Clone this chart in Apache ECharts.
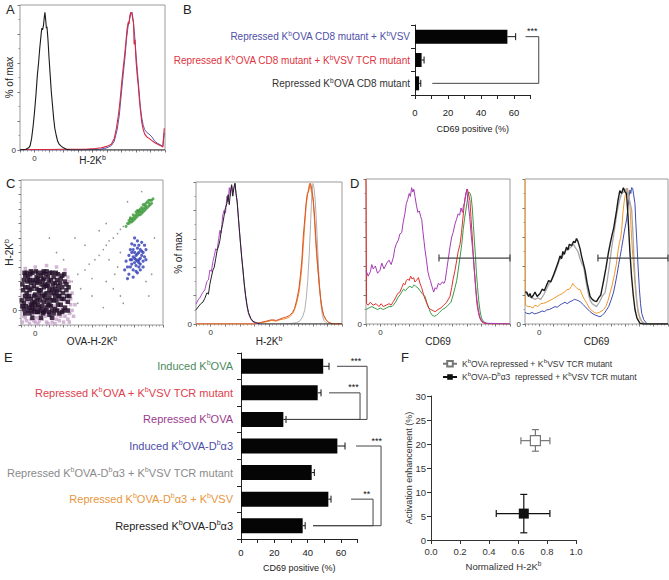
<!DOCTYPE html>
<html>
<head>
<meta charset="utf-8">
<script src="https://cdn.jsdelivr.net/npm/echarts@6.0.0/dist/echarts.min.js"></script>
<style>
html, body { margin: 0; padding: 0; background: #fff; }
#main { width: 669px; height: 580px; }
</style>
</head>
<body>
<div id="main"></div>
<script>
// multi-panel flow cytometry figure (A-F) in one echarts instance

const FONT = '"Liberation Sans", Arial, Helvetica, sans-serif';

// ---- panel A: H-2Kb histograms ----
const aBlack = [[0,0],[4,0.5],[6,1.5],[7,3],[8,8],[9,16],[10,26],[11,38],[12,52],[12.8,60],[13.6,70],[14.4,78],[15,84],[15.6,83],[16.2,86],[16.8,92],[17.2,95],[17.7,90],[18.2,84],[18.6,85],[19.3,76],[20,64],[20.8,52],[21.6,40],[22.4,31],[23.2,22],[24,15],[25,10],[26,6],[27,4],[28,3],[30,1.5],[32,0.5],[35,0],[100,0]];
const aRed = [[0,0.3],[20,0.3],[30,0.5],[45,0.5],[52,1],[56,1.5],[60,2.5],[63,4],[65,8],[66.5,15],[68,25],[69,34],[70,45],[71,55],[72,64],[73,74],[73.8,83],[74.6,88],[75.2,87],[75.8,93],[76.5,95],[77.2,94],[77.8,90],[78.3,88],[78.7,73],[79.3,76],[80,62],[80.8,52],[81.6,44],[82.4,34],[83.2,26],[84,19],[85,14],[86,11],[87.5,9],[89,8],[91,6.5],[93,5],[95,4],[97,3],[98.5,2],[99.5,15]];
const aBlue = [[0,0],[45,0],[55,0.5],[60,1.5],[63,3],[65,6],[67,14],[68.5,24],[70,40],[71.2,52],[72.4,64],[73.5,77],[74.5,85],[75.5,90],[76.5,94],[77.3,95],[78,90],[79,80],[80,66],[81,54],[82,42],[83,30],[84,22],[85,17],[86,14],[87.5,12],[89,11],[91,9],[93,6],[95,4.5],[97,3.5],[98.5,2.5],[99.5,12]];

// ---- panel B ----
const bLabels = ['Repressed K^bOVA CD8 mutant + K^bVSV', 'Repressed K^bOVA CD8 mutant + K^bVSV TCR mutant', 'Repressed K^bOVA CD8 mutant'];
const bColors = ['#4f4fa6', '#de3341', '#333333'];
const bMeans = [56, 4, 2.5];
const bUpper = [61, 5.5, 3.5];
// [top row, bottom row, top start, bottom start, right edge, star x, stars]
const bBrackets = [[0, 2, 67, 10.5, 75, 71, '***']];

// ---- panel C: dot plot ----
const cBlack = [[1,13],[3,8],[2,15],[4,22],[1,28],[3,34],[5,10],[6,12],[7,18],[5,26],[6,31],[8,12],[9,9],[8,15],[10,21],[9,27],[11,33],[12,9],[13,12],[12,19],[14,24],[13,30],[15,36],[16,9],[17,10],[16,16],[18,22],[17,28],[19,33],[20,7],[21,13],[20,19],[22,25],[21,31],[23,8],[24,11],[23,17],[25,23],[24,29],[26,35],[27,8],[28,14],[27,20],[29,26],[28,32],[30,10],[31,12],[30,18],[32,24],[31,30],[33,16],[2,11],[4,18],[6,24],[8,36],[10,14],[12,14],[14,10],[15,20],[16,26],[18,12],[19,14],[22,10],[24,20],[26,14],[26,27],[29,9],[33,10],[34,20],[7,37],[18,37],[11,25],[14,34],[20,24],[3,20],[9,20],[13,22],[17,19],[21,22],[25,17],[11,17],[15,13],[19,27],[23,33],[27,24],[10,11],[6,8],[2,31],[29,34],[32,28],[4,36],[12,36],[22,36],[7,29],[16,32],[0.5,17],[1.5,24],[2.5,36],[3.5,13],[4.5,30],[5.5,20],[6.5,35],[7.5,10],[7.5,25],[8.5,31],[9.5,16],[10.5,37],[11.5,9],[11.5,29],[12.5,24],[13.5,17],[14.5,28],[15.5,8],[15.5,31],[16.5,21],[17.5,35],[18.5,17],[19.5,9],[19.5,30],[20.5,36],[21.5,17],[22.5,28],[23.5,22],[24.5,36],[25.5,10],[25.5,31],[26.5,20],[27.5,29],[28.5,18],[29.5,22],[30.5,35],[32.5,20],[33.5,26],[14,5],[22,5],[8,5],[3,26],[12,32],[18,27],[5,33],[20,14],[10,30],[24,25],[16,37],[7,14]];
const cPink = [[1,2],[3,5],[6,1],[9,3],[12,1],[15,4],[18,2],[21,5],[24,1],[27,3],[30,2],[33,4],[2,9],[8,7],[14,8],[20,9],[26,7],[32,10],[35,14],[36,22],[34,30],[31,38],[25,40],[18,41],[10,40],[3,39],[1,20],[37,6],[0.5,12],[16,11],[23,13],[5,16],[4,3],[11,5],[17,6],[28,6],[34,8],[7,4],[13,3],[19,1],[25,4],[31,6],[29,12],[35,18],[33,33],[30,28],[36,10],[10,2],[22,2],[2,6],[26,10],[34,2],[38,14],[32,16]];
const cGreen = [[75,70],[76,72],[77,71],[78,73],[77,74],[79,72],[80,75],[79,76],[81,74],[82,77],[81,78],[83,76],[84,78],[83,79],[85,77],[86,80],[85,81],[87,79],[88,82],[87,83],[89,81],[90,84],[89,85],[91,83],[92,86],[91,86],[80,73],[82,75],[84,80],[86,78],[88,80],[90,82],[78,71],[76,70],[83,78],[85,79],[87,81],[81,76],[79,74],[77,73],[88,84],[86,83],[84,76],[82,79],[90,86],[92,84],[74,68],[93,87]];
const cBlue = [[75,40],[77,45],[78,50],[76,35],[79,38],[80,43],[81,48],[82,53],[83,40],[84,46],[85,51],[86,44],[80,55],[78,42],[82,36],[84,38],[86,50],[87,47],[79,47],[81,41],[83,45],[80,50],[77,52],[83,55],[85,57],[74,44],[88,52],[76,48],[82,44],[84,42],[81,37],[79,33],[87,55],[83,50],[78,56],[80,60],[75,32],[73,38],[86,40],[88,45],[82,58],[85,48],[79,52],[81,45],[84,52],[77,40],[80,46],[83,43],[78,45],[82,49]];
const cGrey = [[36,30],[40,35],[45,38],[48,42],[52,45],[55,48],[58,52],[60,55],[62,58],[65,60],[68,63],[70,66],[72,68],[50,20],[60,30],[65,25],[70,20],[68,40],[62,45],[45,55],[38,60],[55,65],[40,15],[35,8],[58,12],[72,15],[90,20],[92,35],[94,60],[70,50],[66,35],[85,92],[75,85],[60,70],[50,32],[42,25],[30,45],[25,50],[20,60],[88,30]];

// ---- panel C: H-2Kb histograms ----
const chBlack = [[0,10],[1.5,12],[3,14],[4.8,15.5],[6,18],[7.5,22],[8.5,21],[9.5,28],[10.5,33],[11.6,38],[12.5,40],[13.5,46],[14.5,52],[15.5,55],[16.4,59],[17.3,66],[18.2,70],[19.2,76],[20.2,82],[21.2,85],[22,91],[22.8,84],[23.6,93],[24.4,98],[25.2,90],[26,96],[26.7,99],[27.4,92],[28.2,86],[28.8,78],[29.6,68],[30.4,58],[31.3,47],[32.2,38],[33,29],[34,20],[35,13],[36,8],[37.5,4],[39,2],[41,1],[44,0],[100,0]];
const chPurple = [[0,14],[1.5,17],[3,19],[4.5,22],[6,24],[7.5,30],[8.5,31],[9.5,38],[10.5,37],[11.6,44],[12.5,48],[13.5,53],[14.5,52],[15.5,60],[16.4,66],[17.3,64],[18.2,76],[19.2,80],[20.2,78],[21.2,90],[22,86],[22.8,96],[23.6,90],[24.4,98],[25.2,93],[26,96],[26.7,99],[27.4,92],[28.2,86],[28.8,78],[29.6,67],[30.4,57],[31.3,47],[32.2,37],[33,28],[34,19],[35,12],[36,7],[37.5,3.5],[39,1.5],[41,0.5],[44,0]];
const chOrange = [[0,0],[40,0],[44,0.8],[48,1.5],[52,2.5],[55,2],[57.5,3],[60,3.5],[62,4],[64,5],[66,7],[67.5,10],[69,15],[70.5,22],[71.5,30],[72.5,40],[73.5,55],[74.5,70],[75.5,84],[76.3,90],[77,95],[77.8,99],[78.5,96],[79.3,92],[80.3,86],[81.2,72],[82,57],[82.8,46],[83.6,37],[84.5,26],[85.5,16],[86.5,10],[87.5,6],[89,3],[91,1],[94,0],[100,0]];
const chRed = [[0,0],[40,0],[44,1],[48,2],[52,3],[55,2.5],[57.5,3.5],[60,4.5],[62,5],[64,6],[66,8],[67.5,11],[69,17],[70.5,25],[71.5,34],[72.5,45],[73.5,62],[74.5,74],[75.5,86],[76.3,92],[77,93],[77.8,97],[78.5,99],[79.3,95],[80.3,88],[81.2,76],[82,62],[82.8,49],[83.6,38],[84.5,27],[85.5,17],[86.5,10],[87.5,6],[89,3],[91,1],[94,0],[100,0]];
const chGrey = [[0,0],[60,0],[66,0.5],[69,1],[71,2],[73,5],[74.5,10],[75.5,18],[76.5,30],[77.5,48],[78.3,66],[79,84],[79.6,95],[80.2,99],[80.8,96],[81.6,88],[82.4,74],[83.2,56],[84,38],[84.8,24],[85.7,13],[86.6,6],[87.6,2.5],[89,1],[91,0],[100,0]];

// ---- panel D: CD69 histograms ----
const dlPurple = [[0,37],[1.5,33],[3,36],[4,41],[5,38],[6.5,40],[8,35],[9.7,37],[11,42],[12.5,38],[14.4,42],[16,44],[17.5,41],[19,46],[20,52],[21,55],[22.5,58],[23.5,62],[24.8,63],[25.8,70],[27,76],[28,83],[29,86],[30,90],[30.8,88],[31.7,94],[32.5,91],[33.2,93],[34,88],[35,82],[36,77],[37,78],[38,74],[38.7,72],[39.5,64],[40.3,57],[41,51],[42,44],[43,36],[44,32],[44.7,30],[45.8,26],[47,22],[48,25],[49,24],[50.2,28],[51.5,27],[53,29],[54.2,28],[55,30],[56,37],[57,44],[58.3,53],[59.5,60],[60.5,63],[61.8,69],[62.8,72],[64,76],[65,75],[66,80],[67,77],[67.6,81],[68.5,84],[69.3,89],[70,93],[70.7,86],[71.3,80],[72,74],[73,62],[74,52],[74.5,46],[75.5,34],[76.3,24],[77,17],[78,10],[79,5],[80.5,2],[82,1],[84,0.5],[100,0]];
const dlRed = [[0,100],[0.4,14],[1.5,13],[3,15],[5,13],[7,14],[9,12],[10.5,14],[12,12],[14,13],[16,14],[17.5,13],[19,15.5],[20.5,18],[22,21],[23.5,22],[24.8,25],[26,28],[27,27],[28,30],[29,31],[30,30],[31,33],[32,31],[33,32],[34,29],[35,30],[36.4,32],[37.5,28],[38.7,25],[40,20],[41.5,16],[43.5,11],[45,10],[47,9],[48,8.5],[50,10],[52,11],[54,13],[56,15],[58.3,19],[59.5,25],[60.5,31],[61.8,37],[63,44],[64,50],[65.3,55],[66.3,63],[67.2,72],[68,80],[68.8,87],[69.6,91],[70.4,93],[71.2,90],[72.2,85],[73,72],[73.8,60],[74.5,48],[75.3,36],[76.2,24],[77,14],[78,8],[79,4],[80.3,1.6],[82,0.5],[86,0],[100,0]];
const dlGreen = [[0,10],[2,11],[4,12],[6,11],[8,10],[10,11],[12,10],[14,11],[16,12],[18,12],[19,13],[20.5,15],[22,18],[23.5,20],[24.8,22],[26,24],[27.5,23],[29,25],[30.5,26],[32,25],[33.5,27],[34.5,26],[36,25],[37.5,23],[39,21],[41,19],[42.5,14],[44,10],[44.7,8],[46,6],[47.5,5.3],[49,6],[51,8],[53,10],[55,11],[57,13],[59,15],[60.5,20],[61.8,25],[63,30],[64,37],[65.3,46],[66.5,55],[67.5,65],[68.5,73],[69.3,78],[70,83],[70.8,88],[71.5,91],[72.3,90],[73,88],[73.8,80],[74.6,68],[75.3,57],[76,47],[76.7,35],[77.5,25],[78.3,16],[79.2,9],[80.2,4],[81.7,1.6],[84,0.3],[100,0]];
const drBlack = [[0,22],[1.2,22],[2.5,19],[3.5,21],[4.5,18],[5.9,20],[7,22],[8.5,19],[10.5,21],[12,24],[13.5,23],[15.2,27],[16.5,30],[18,29],[20,34],[21.5,38],[23,42],[24.5,47],[25.5,45],[26.5,50],[27.5,48],[29,53],[30,51],[31,55],[32.5,54],[34,57],[35,56],[36,59],[37,57],[38.5,52],[39.5,47],[40.5,43],[42,37],[43.5,28],[45.5,19],[47,17],[48.5,16],[50,15.4],[51.5,18],[53,20],[53.6,23],[55,30],[56.5,38],[58.3,49],[59.5,55],[61,62],[62,66],[63,72],[64,78],[65,85],[66.3,92],[67.5,90],[68.8,94],[70,91],[71,90],[72,75],[73.4,49],[74.5,33],[75.7,20],[76.9,10],[78.3,4],[80.4,0.5],[83,0],[100,0]];
const drGrey = [[0,20],[1.2,21],[3,19],[5,18],[7,17],[9,18],[11,17],[13,20],[15,24],[17,28],[19,31],[20,33],[22,38],[24,44],[26,46],[28,50],[29,51],[31,52],[33,54],[34,55],[35,53],[37,50],[38.5,45],[40,41],[41,39.5],[42.5,30],[44,22],[45.5,16.5],[47,14],[48.5,13],[50,12],[52,15],[54,19],[56,21.6],[57.5,30],[59,40],[60.5,52],[61.8,60],[63,68],[64.5,78],[66,85],[67.6,90],[69,91],[70,92],[71,93.6],[72,90],[73,86],[74.6,78.6],[75.5,62],[76.2,45],[77,30.5],[78,18],[79,10],[80,5.5],[81.5,2],[84,0],[100,0]];
const drOrange = [[0,100],[0.4,13],[2,12],[3.7,12],[5.5,11],[7,13],[9,12],[11,14],[13,14.3],[15,15],[17,16],[19,17],[20.5,18],[22.4,19],[24,20],[26,21],[27.5,22],[29.4,23.7],[31,24],[32.5,26],[33.5,28],[34,27],[35,26],[36,25],[37,24],[38.5,23.7],[40,20],[41.5,17],[43.2,14.3],[45,11],[47,9],[48.5,8],[50,7.4],[52,8],[54.8,9.7],[56.5,12],[58,16],[59.5,21.4],[61,27],[62.5,34],[64,42],[65,50],[66,56],[67,60],[67.6,65],[68.5,77],[69.3,84],[70,88.3],[70.8,91],[71.8,93.6],[72.6,88],[73.4,81],[74.2,66],[75,52],[76.2,37.2],[77.2,24],[78.2,14],[79.2,7.4],[80.5,3],[82.7,0.5],[86,0],[100,0]];
const drBlue = [[0,8],[1.2,7.4],[3,7],[5,8],[6.5,7],[8.2,7.4],[10,8],[12,9],[13.5,8.5],[15.2,9.7],[17,10],[19,11],[21,12],[22.5,11.5],[24.5,13.1],[26,14],[28,15],[29.5,14],[31.5,15.4],[33,16],[34.5,17],[36,16.6],[37.5,16],[39,15],[41,13.1],[43,11],[45.5,8.5],[47.5,7],[49.5,6],[51,5.5],[52.4,5],[54,6],[55.5,7.5],[57,9.7],[58.5,12],[60,16],[61.8,21.4],[63,27],[64.5,35],[65.5,41],[66.5,46.5],[67.5,52],[68.5,58],[69.5,64],[71,71.7],[72,80],[72.8,88],[73.4,92.4],[74,90],[74.5,94],[75.3,93.6],[76,89],[76.9,83],[77.5,70],[78.3,55],[79.2,37.2],[80,24],[80.8,14],[81.6,7.4],[83,3],[85,0.5],[88,0],[100,0]];
// CD69 positive gates [from, to, level]
const gateLeft = [50.7, 100, 45.5];
const gateRight = [51, 100, 45.5];

// ---- panel E ----
const eLabels = ['Induced K^bOVA', 'Repressed K^bOVA + K^bVSV TCR mutant', 'Repressed K^bOVA', 'Induced K^bOVA-D^b\u03b13', 'Repressed K^bOVA-D^b\u03b13 + K^bVSV TCR mutant', 'Repressed K^bOVA-D^b\u03b13 + K^bVSV', 'Repressed K^bOVA-D^b\u03b13'];
const eColors = ['#4b8a5c', '#e0404c', '#9a3c8c', '#4b4ba8', '#8a8a8a', '#e8963c', '#222222'];
const eMeans = [49.3, 46, 25.4, 57.8, 42.4, 52.4, 37];
const eUpper = [52.8, 48, 27, 62.4, 44, 54, 38.5];
const eBrackets = [
    [0, 2, 57.6, 26.4, 75.6, 69, '***'],
    [1, 2, 52.8, 26.4, 71.4, 67.5, '***'],
    [3, 6, 69, 43.2, 84, 81.5, '***'],
    [5, 6, 66, 43.2, 79.2, 75.5, '**']
];

// ---- panel F ----
const fNames = ['K^bOVA repressed + K^bVSV TCR mutant', 'K^bOVA-D^b\u03b13  repressed + K^bVSV TCR mutant'];
const fX = [0.72, 0.64];
const fY = [20.7, 5.5];
const fXLo = [0.62, 0.45];
const fXHi = [0.82, 0.82];
const fYLo = [18.5, 1.5];
const fYHi = [23, 9.5];
const fColors = ['#777777', '#111111'];

// "K^bOVA" -> rich text with superscript b
function rt(text, key) {
    return text.split('^b').map(function (part, i) {
        return (i ? '{' + key + 's|b}' : '') + (part ? '{' + key + '|' + part + '}' : '');
    }).join('');
}
function richPair(r, key, color, size, supSize) {
    r[key] = { color: color, fontSize: size, fontFamily: FONT, lineHeight: size + 3 };
    r[key + 's'] = { color: color, fontSize: supSize, fontFamily: FONT, lineHeight: supSize + 1, verticalAlign: 'top' };
    return r;
}

const nameRich = richPair({}, 'n', '#222', 10, 7);
const bRich = {};
bColors.forEach(function (c, i) { richPair(bRich, 'b' + i, c, 10, 6.5); });
const eRich = {};
eColors.forEach(function (c, i) { richPair(eRich, 'e' + i, c, 11, 7); });
const fRich = richPair({}, 'f', '#333', 8.5, 6);

// box-style axes shared by histogram / dot plot panels
function boxX(gi, name, gap, zeroAt) {
    return {
        gridIndex: gi, type: 'value', min: 0, max: 100, interval: 10,
        axisLine: { show: false }, splitLine: { show: false },
        axisTick: { show: true, length: 2.5, lineStyle: { color: '#777' } },
        minorTick: { show: true, splitNumber: 4, length: 1.5, lineStyle: { color: '#999' } },
        axisLabel: { margin: 4, fontSize: 8, color: '#333', fontFamily: FONT, formatter: function (v) { return v === zeroAt ? '0' : ''; } },
        name: name, nameLocation: 'middle', nameGap: gap, nameMoveOverlap: false,
        nameTextStyle: { fontSize: 10, color: '#222', rich: nameRich }
    };
}
function boxY(gi, name, gap, zeroAt, step) {
    return {
        gridIndex: gi, type: 'value', min: 0, max: 100, interval: step || 20,
        axisLine: { show: false }, splitLine: { show: false },
        axisTick: { show: true, length: 2.5, lineStyle: { color: '#777' } },
        minorTick: { show: true, splitNumber: 2, length: 1.5, lineStyle: { color: '#999' } },
        axisLabel: { margin: 4, fontSize: 8, color: '#333', fontFamily: FONT, formatter: function (v) { return v === zeroAt ? '0' : ''; } },
        name: name, nameLocation: 'middle', nameGap: gap, nameMoveOverlap: false,
        nameTextStyle: { fontSize: 10, color: '#222', lineHeight: 11, rich: nameRich }
    };
}
function barX(gi, gap, labelMargin) {
    return {
        gridIndex: gi, type: 'value', min: 0, max: 70, interval: 10,
        axisLine: { show: true, lineStyle: { color: '#222', width: 1 } },
        axisTick: { show: true, length: 4, lineStyle: { color: '#222' } },
        splitLine: { show: false },
        axisLabel: { margin: labelMargin, fontSize: 9.5, color: '#222', fontFamily: FONT, formatter: function (v) { return v % 20 === 0 ? String(v) : ''; } },
        name: 'CD69 positive (%)', nameLocation: 'middle', nameGap: gap, nameMoveOverlap: false,
        nameTextStyle: { fontSize: 9, color: '#222', fontFamily: FONT }
    };
}
function barY(gi, labels, prefix, rich, margin) {
    return {
        gridIndex: gi, type: 'category', inverse: true, data: labels,
        axisLine: { show: true, lineStyle: { color: '#222', width: 1 } },
        axisTick: { show: true, length: 4, lineStyle: { color: '#222' } },
        splitLine: { show: false },
        axisLabel: { margin: margin, rich: rich, formatter: function (v, i) { return rt(v, prefix + i); } }
    };
}

function histLine(gi, data, color, width, z) {
    return {
        type: 'line', xAxisIndex: gi, yAxisIndex: gi, data: data,
        showSymbol: false, symbol: 'none', silent: true, z: z || 2,
        lineStyle: { color: color, width: width || 1 }, itemStyle: { color: color }
    };
}
function dots(data, color, size, opacity, z, shape) {
    return {
        type: 'scatter', xAxisIndex: 2, yAxisIndex: 2, data: data, silent: true,
        symbol: shape || 'circle', symbolSize: size, z: z || 2, itemStyle: { color: color, opacity: opacity }
    };
}

function errRender(params, api) {
    const i = api.value(1);
    const a = api.coord([api.value(0), i]);
    const b = api.coord([api.value(2), i]);
    return {
        type: 'group', children: [
            { type: 'line', shape: { x1: a[0], y1: a[1], x2: b[0], y2: b[1] }, style: { stroke: '#111', lineWidth: 1 } },
            { type: 'line', shape: { x1: b[0], y1: b[1] - 3.5, x2: b[0], y2: b[1] + 3.5 }, style: { stroke: '#111', lineWidth: 1 } }
        ]
    };
}
function errSeries(gi, means, upper) {
    return {
        type: 'custom', xAxisIndex: gi, yAxisIndex: gi, silent: true, z: 3,
        data: means.map(function (m, i) { return [m, i, upper[i]]; }),
        encode: { x: [0, 2], y: 1 },
        renderItem: errRender
    };
}
function bracketSeries(gi, list) {
    return {
        type: 'custom', xAxisIndex: gi, yAxisIndex: gi, silent: true, z: 3,
        data: list.map(function (b) { return [b[4], b[0]]; }),
        encode: { x: 0, y: 1 },
        renderItem: function (params, api) {
            const b = list[params.dataIndex];
            const p1 = api.coord([b[2], b[0]]);
            const p2 = api.coord([b[4], b[0]]);
            const p3 = api.coord([b[4], b[1]]);
            const p4 = api.coord([b[3], b[1]]);
            const s = api.coord([b[5], b[0]]);
            return {
                type: 'group', children: [
                    { type: 'polyline', shape: { points: [p1, p2, p3, p4] }, style: { stroke: '#444', fill: null, lineWidth: 1 } },
                    { type: 'text', style: { text: b[6], x: s[0], y: s[1] - 1, align: 'center', verticalAlign: 'bottom', fontSize: 9, fontFamily: FONT, fill: '#111' } }
                ]
            };
        }
    };
}
function gateSeries(gi, g) {
    return {
        type: 'custom', xAxisIndex: gi, yAxisIndex: gi, silent: true, z: 4,
        data: [g],
        encode: { x: [0, 1], y: 2 },
        renderItem: function (params, api) {
            const a = api.coord([api.value(0), api.value(2)]);
            const b = api.coord([api.value(1), api.value(2)]);
            const st = { stroke: '#444', lineWidth: 1.2 };
            return {
                type: 'group', children: [
                    { type: 'line', shape: { x1: a[0], y1: a[1], x2: b[0], y2: b[1] }, style: st },
                    { type: 'line', shape: { x1: a[0], y1: a[1] - 3.5, x2: a[0], y2: a[1] + 3.5 }, style: st },
                    { type: 'line', shape: { x1: b[0], y1: b[1] - 3.5, x2: b[0], y2: b[1] + 3.5 }, style: st }
                ]
            };
        }
    };
}

function initFigure() {
    const el = document.getElementById('main');
    const chart = echarts.init(el, null, { renderer: 'svg' });

    const box = { show: true, borderColor: '#9a9a9a', borderWidth: 1, backgroundColor: 'transparent', outerBoundsMode: 'none' };
    const plain = { show: false, outerBoundsMode: 'none' };

    const option = {
        animation: false,
        backgroundColor: '#fff',
        textStyle: { fontFamily: FONT },
        grid: [
            Object.assign({ left: 20, top: 5, width: 145, height: 145 }, box),      // A
            Object.assign({ left: 415, top: 25, width: 115.5, height: 70 }, plain), // B
            Object.assign({ left: 21, top: 180, width: 142, height: 145 }, box),    // C dot plot
            Object.assign({ left: 196, top: 182, width: 146, height: 142 }, box),   // C histogram
            Object.assign({ left: 366, top: 179, width: 144, height: 145 }, box),   // D left
            Object.assign({ left: 525, top: 179, width: 143, height: 145 }, box),   // D right
            Object.assign({ left: 241, top: 353, width: 116.7, height: 186 }, plain), // E
            Object.assign({ left: 431, top: 396, width: 145, height: 144 }, plain)  // F
        ],
        xAxis: [
            boxX(0, rt('H-2K^b', 'n'), 4, 10),
            barX(1, 29, 12),
            boxX(2, rt('OVA-H-2K^b', 'n'), 10, 10),
            boxX(3, rt('H-2K^b', 'n'), 11, 10),
            boxX(4, 'CD69', 12, 10),
            boxX(5, 'CD69', 12, 10),
            barX(6, 24, 8),
            {
                gridIndex: 7, type: 'value', min: 0, max: 1, interval: 0.2,
                axisLine: { show: true, lineStyle: { color: '#333' } },
                axisTick: { show: true, length: 4, lineStyle: { color: '#333' } },
                splitLine: { show: false },
                axisLabel: { margin: 6, fontSize: 9.5, color: '#333', fontFamily: FONT, formatter: function (v) { return v.toFixed(1); } },
                name: rt('Normalized H-2K^b', 'n'), nameLocation: 'middle', nameGap: 20, nameMoveOverlap: false,
                nameTextStyle: { rich: richPair({}, 'n', '#333', 9.5, 6.5) }
            }
        ],
        yAxis: [
            boxY(0, '% of max', 5, 0),
            barY(1, bLabels, 'b', bRich, 5),
            boxY(2, rt('H-2K^b', 'n'), 5, 10, 10),
            boxY(3, '% of max', 12, 0),
            boxY(4, '', 8, 0),
            boxY(5, '', 8, 0),
            barY(6, eLabels, 'e', eRich, 8),
            {
                gridIndex: 7, type: 'value', min: 0, max: 30, interval: 5,
                axisLine: { show: true, lineStyle: { color: '#333' } },
                axisTick: { show: true, length: 4, lineStyle: { color: '#333' } },
                splitLine: { show: false },
                axisLabel: { margin: 5, fontSize: 9.5, color: '#333', fontFamily: FONT },
                name: 'Activation enhancement (%)', nameLocation: 'middle', nameGap: 18, nameMoveOverlap: false,
                nameTextStyle: { fontSize: 9, color: '#333', fontFamily: FONT }
            }
        ],
        legend: {
            show: true, orient: 'vertical', left: 437, top: 353,
            itemWidth: 14, itemHeight: 7, itemGap: 3, selectedMode: false,
            data: fNames,
            formatter: function (name) { return rt(name, 'f'); },
            textStyle: { fontSize: 8.5, color: '#333', fontFamily: FONT, rich: fRich }
        },
        graphic: [
            { type: 'text', left: 6, top: 3, style: { text: 'A', fontSize: 13, fill: '#222', fontFamily: FONT } },
            { type: 'text', left: 183, top: 3, style: { text: 'B', fontSize: 13, fill: '#222', fontFamily: FONT } },
            { type: 'text', left: 6, top: 177, style: { text: 'C', fontSize: 13, fill: '#222', fontFamily: FONT } },
            { type: 'text', left: 350, top: 177, style: { text: 'D', fontSize: 13, fill: '#222', fontFamily: FONT } },
            { type: 'text', left: 4, top: 351, style: { text: 'E', fontSize: 13, fill: '#222', fontFamily: FONT } },
            { type: 'text', left: 401, top: 351, style: { text: 'F', fontSize: 13, fill: '#222', fontFamily: FONT } }
        ],
        series: [
            // A
            histLine(0, aBlue, '#5a5ab4', 1),
            histLine(0, aRed, '#d4283e', 1.1, 3),
            histLine(0, aBlack, '#1a1a1a', 1.1, 4),
            // B
            {
                type: 'bar', xAxisIndex: 1, yAxisIndex: 1, data: bMeans, barWidth: 14,
                itemStyle: { color: '#050505' }, silent: true
            },
            errSeries(1, bMeans, bUpper),
            bracketSeries(1, bBrackets),
            // C dot plot
            dots(cGrey, '#8a8a8a', 1.6, 0.9),
            dots(cPink, '#c6a2c8', 3.5, 0.8, 2, 'rect'),
            dots(cBlack, '#24112a', 4.5, 0.85, 3, 'rect'),
            dots(cGreen, '#3f9a3c', 3, 0.8),
            dots(cBlue, '#2f3cb4', 3.2, 0.8),
            // C histogram
            histLine(3, chGrey, '#b0b0b0', 1),
            histLine(3, chOrange, '#f28a2e', 1),
            histLine(3, chRed, '#d9532b', 1),
            histLine(3, chPurple, '#b04cc4', 1),
            histLine(3, chBlack, '#222222', 1, 3),
            // D left
            histLine(4, dlGreen, '#3a9a48', 1),
            histLine(4, dlRed, '#e0302e', 1),
            histLine(4, dlPurple, '#a43cb4', 1),
            gateSeries(4, gateLeft),
            // D right
            histLine(5, drBlue, '#3e4cb0', 1),
            histLine(5, drOrange, '#f0962a', 1),
            histLine(5, drGrey, '#a8a8a8', 1.3),
            histLine(5, drBlack, '#1a1a1a', 1.4, 3),
            gateSeries(5, gateRight),
            // E
            {
                type: 'bar', xAxisIndex: 6, yAxisIndex: 6, data: eMeans, barWidth: 15,
                itemStyle: { color: '#050505' }, silent: true
            },
            errSeries(6, eMeans, eUpper),
            bracketSeries(6, eBrackets),
            // F error bars
            {
                type: 'custom', xAxisIndex: 7, yAxisIndex: 7, silent: true, z: 2,
                data: fX.map(function (x, i) { return [x, fY[i], fXLo[i], fXHi[i], fYLo[i], fYHi[i]]; }),
                encode: { x: [0, 2, 3], y: [1, 4, 5] },
                renderItem: function (params, api) {
                    const c = fColors[params.dataIndex];
                    const st = { stroke: c, lineWidth: 1.2 };
                    const l = api.coord([api.value(2), api.value(1)]);
                    const r = api.coord([api.value(3), api.value(1)]);
                    const lo = api.coord([api.value(0), api.value(4)]);
                    const hi = api.coord([api.value(0), api.value(5)]);
                    return {
                        type: 'group', children: [
                            { type: 'line', shape: { x1: l[0], y1: l[1], x2: r[0], y2: r[1] }, style: st },
                            { type: 'line', shape: { x1: l[0], y1: l[1] - 3.5, x2: l[0], y2: l[1] + 3.5 }, style: st },
                            { type: 'line', shape: { x1: r[0], y1: r[1] - 3.5, x2: r[0], y2: r[1] + 3.5 }, style: st },
                            { type: 'line', shape: { x1: lo[0], y1: lo[1], x2: hi[0], y2: hi[1] }, style: st },
                            { type: 'line', shape: { x1: lo[0] - 3.5, y1: lo[1], x2: lo[0] + 3.5, y2: lo[1] }, style: st },
                            { type: 'line', shape: { x1: hi[0] - 3.5, y1: hi[1], x2: hi[0] + 3.5, y2: hi[1] }, style: st }
                        ]
                    };
                }
            },
            {
                name: fNames[0], type: 'line', xAxisIndex: 7, yAxisIndex: 7, z: 4,
                data: [[fX[0], fY[0]]], symbol: 'rect', symbolSize: 10, showSymbol: true,
                lineStyle: { color: fColors[0], width: 1 },
                itemStyle: { color: '#fff', borderColor: fColors[0], borderWidth: 1.2 }
            },
            {
                name: fNames[1], type: 'line', xAxisIndex: 7, yAxisIndex: 7, z: 4,
                data: [[fX[1], fY[1]]], symbol: 'rect', symbolSize: 10, showSymbol: true,
                lineStyle: { color: fColors[1], width: 1 },
                itemStyle: { color: fColors[1] }
            }
        ]
    };

    chart.setOption(option);
    window.addEventListener('resize', function () { chart.resize(); });
    return chart;
}

document.addEventListener('DOMContentLoaded', function () {
    if (typeof echarts !== 'undefined') {
        initFigure();
    } else {
        console.error('ECharts library not loaded');
    }
});
</script>
</body>
</html>
